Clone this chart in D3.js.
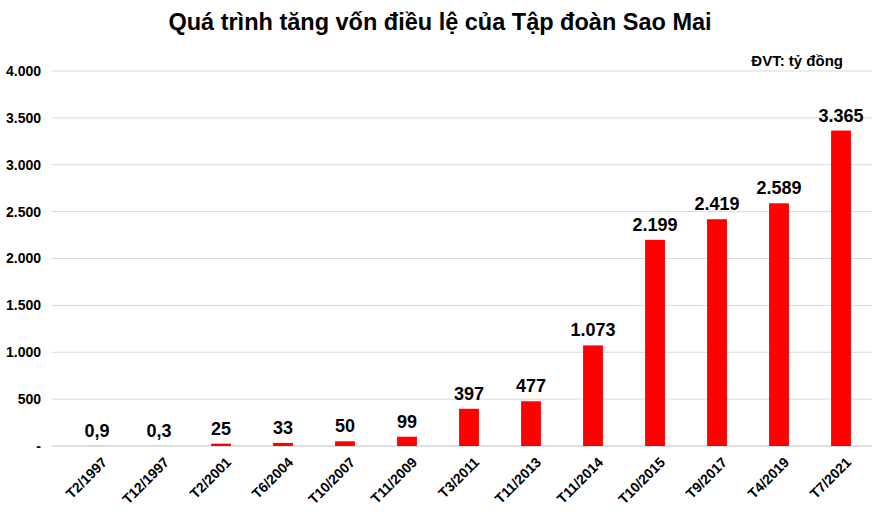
<!DOCTYPE html>
<html><head><meta charset="utf-8">
<script src="https://cdn.jsdelivr.net/npm/d3@7"></script>
<style>body{margin:0;background:#fff}text{font-family:Arial,"Liberation Sans",sans-serif}</style>
</head><body>
<svg id="c" width="880" height="517"></svg>
<script>
const categories=["T2/1997","T12/1997","T2/2001","T6/2004","T10/2007","T11/2009","T3/2011","T11/2013","T11/2014","T10/2015","T9/2017","T4/2019","T7/2021"];
const values=[0.9,0.3,25,33,50,99,397,477,1073,2199,2419,2589,3365];
const labels=["0,9","0,3","25","33","50","99","397","477","1.073","2.199","2.419","2.589","3.365"];
const yTicks=[0,500,1000,1500,2000,2500,3000,3500,4000];
const yTickLabels=["-","500","1.000","1.500","2.000","2.500","3.000","3.500","4.000"];

const svg=d3.select("#c");
const x=d3.scaleBand().domain(categories).range([66,872]).paddingInner(0.68).paddingOuter(0.34);
const y=d3.scaleLinear().domain([0,4000]).range([446,71]);

svg.append("text").attr("x",440).attr("y",30).attr("text-anchor","middle")
 .attr("font-size",23.5).attr("font-weight","bold").text("Quá trình tăng vốn điều lệ của Tập đoàn Sao Mai");
svg.append("text").attr("x",843).attr("y",66).attr("text-anchor","end")
 .attr("font-size",15).attr("font-weight","bold").text("ĐVT: tỷ đồng");

svg.append("g").selectAll("line").data(yTicks.slice(1)).join("line")
 .attr("x1",52).attr("x2",872).attr("y1",d=>y(d)).attr("y2",d=>y(d))
 .attr("stroke","#d9d9d9");
svg.append("line").attr("x1",52).attr("x2",872).attr("y1",y(0)).attr("y2",y(0)).attr("stroke","#bfbfbf");

const ya=svg.append("g").attr("transform","translate(44,0)")
 .call(d3.axisLeft(y).tickValues(yTicks).tickFormat((d,i)=>yTickLabels[i]).tickSize(0));
ya.select(".domain").remove();
ya.selectAll("text").attr("font-size",14).attr("font-weight","bold").attr("fill","#000")
 .attr("font-family","Arial,'Liberation Sans',sans-serif");

svg.append("g").selectAll("rect").data(values).join("rect")
 .attr("x",(d,i)=>x(categories[i])).attr("width",x.bandwidth())
 .attr("y",d=>y(d)).attr("height",d=>y(0)-y(d)).attr("fill","#ff0000");

svg.append("g").selectAll("text").data(values).join("text")
 .attr("x",(d,i)=>x(categories[i])+x.bandwidth()/2).attr("y",d=>y(d)-9)
 .attr("text-anchor","middle").attr("font-size",18).attr("font-weight","bold")
 .text((d,i)=>labels[i]);

const xa=svg.append("g").attr("transform",`translate(0,${y(0)})`)
 .call(d3.axisBottom(x).tickSize(0));
xa.select(".domain").remove();
xa.selectAll("text").attr("font-size",14).attr("font-weight","bold").attr("fill","#000")
 .attr("font-family","Arial,'Liberation Sans',sans-serif")
 .attr("text-anchor","end").attr("dy",0).attr("transform","translate(9,15) rotate(-45)");
</script>
</body></html>
